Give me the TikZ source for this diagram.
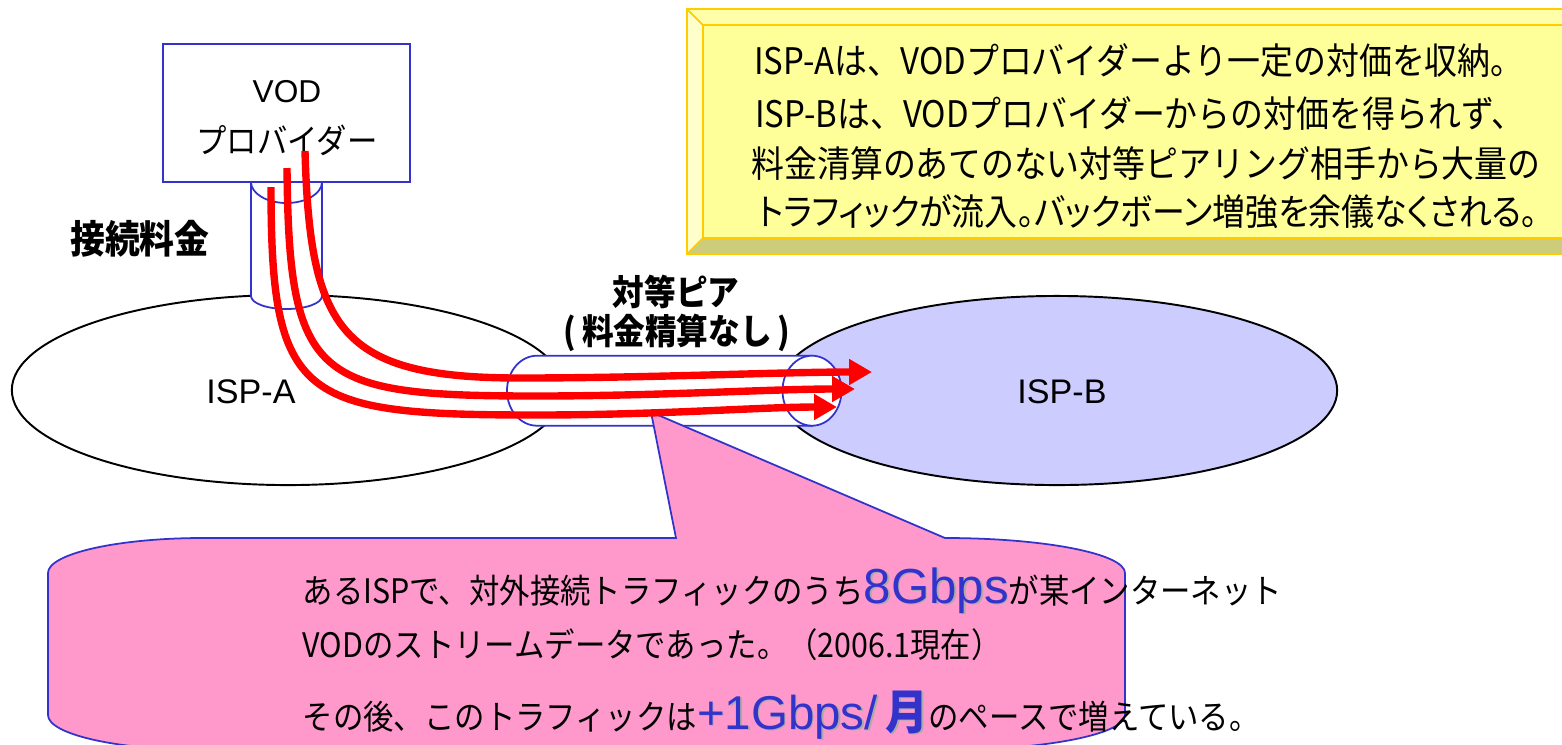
\documentclass[tikz,border=0pt]{standalone}
\usepackage{fontspec}
\setmainfont{Liberation Sans}
\newfontfamily\jp[FakeStretch=0.9]{Noto Sans CJK JP}
\newfontfamily\jpprop[FakeStretch=0.9,RawFeature=+palt]{Noto Sans CJK JP}
\usetikzlibrary{arrows.meta,shapes.geometric}
\definecolor{lineblue}{RGB}{51,51,204}
\definecolor{ispbfill}{RGB}{204,204,255}
\definecolor{pinkfill}{RGB}{255,153,204}
\definecolor{yface}{RGB}{255,255,153}
\definecolor{ytop}{RGB}{255,255,170}
\definecolor{yleft}{RGB}{255,255,204}
\definecolor{ybottom}{RGB}{204,204,122}
\definecolor{yborder}{RGB}{255,204,0}
\definecolor{shadowgray}{RGB}{170,170,170}
\definecolor{vblue}{RGB}{51,51,204}
\newcommand{\yboxfont}{\jp\fontsize{10.4}{12}\selectfont}
\newcommand{\yboxpfont}{\jpprop\fontsize{10.4}{12}\selectfont}
\newcommand{\pinkfont}{\jp\fontsize{9.6}{11}\selectfont}
\newcommand{\shadowed}[1]{\makebox[0pt][l]{\kern0.5pt\raisebox{-0.5pt}{\textcolor{shadowgray}{#1}}}\textcolor{vblue}{#1}}
\tikzset{
  ispshape/.style={ellipse, draw=black, line width=0.55pt, inner sep=0pt},
  blueline/.style={draw=lineblue, line width=0.5pt},
  flow/.style={draw=red, line width=2.1pt, -{Triangle[length=6.5pt,width=7pt]}},
  txt/.style={inner sep=0pt},
  ybord/.style={draw=yborder, line width=0.5pt},
}
\begin{document}
\begin{tikzpicture}[x=0.01cm,y=-0.01cm]
\path[use as bounding box, fill=white] (0,0) rectangle (1562,744);
\clip (0,0) rectangle (1562,744);

% ISP ellipses
\node[ispshape, fill=white, minimum width=5.52cm, minimum height=1.90cm] (ispa) at (288,390) {};
\node[ispshape, fill=ispbfill, minimum width=5.60cm, minimum height=1.89cm] (ispb) at (1057,390.5) {};
\node[txt] (ispalabel) at (251,392) {\fontsize{9.7}{11}\selectfont ISP-A};
\node[txt] (ispblabel) at (1062,392) {\fontsize{9.7}{11}\selectfont ISP-B};

% peering pipe
\path[blueline, fill=white] (812,355.7) -- (537,355.7)
  .. controls (520.4,355.7) and (507,371.4) .. (507,390.7)
  .. controls (507,410) and (520.4,425.7) .. (537,425.7) -- (812,425.7) -- cycle;
\draw[blueline, fill=white] (812,390.7) ellipse [x radius=29.5, y radius=35];

% vertical cylinder
\path[blueline, fill=white] (251,175) -- (251,296)
  .. controls (251,303.2) and (266.9,309) .. (286.5,309)
  .. controls (306.1,309) and (322,303.2) .. (322,296) -- (322,175) -- cycle;
\draw[blueline] (251,182) .. controls (251,193.6) and (266.9,203) .. (286.5,203)
  .. controls (306.1,203) and (322,193.6) .. (322,182);

% VOD provider box
\node[draw=lineblue, line width=0.5pt, fill=white, minimum width=2.47cm, minimum height=1.38cm, inner sep=0pt] (vod) at (286.5,113) {};
\node[txt] (vodt1) at (287,92) {\fontsize{9}{11}\selectfont VOD};
\node[txt] (vodt2) at (287,140) {\jp\fontsize{9.6}{11}\selectfont プロバイダー};

% labels
\node[txt] (fee) at (140,239) {\jp\fontsize{11}{13}\selectfont\bfseries 接続料金};
\node[txt] (peer1) at (676,292) {\jp\fontsize{10}{12}\selectfont\bfseries 対等ピア};
\node[txt] (peer2) at (677,333) {\jp\fontsize{10}{12}\selectfont\bfseries (\,料金精算なし\,)};

% yellow note
\fill[yface] (703,25) rectangle (1564,238);
\fill[ytop] (687,9) -- (1580,9) -- (1564,25) -- (703,25) -- cycle;
\fill[yleft] (687,9) -- (703,25) -- (703,238) -- (687,254) -- cycle;
\fill[ybottom] (687,254) -- (703,238) -- (1564,238) -- (1580,254) -- cycle;
\draw[ybord] (687,9) rectangle (1580,254);
\draw[ybord] (703,25) rectangle (1564,238);
\draw[ybord] (687,9) -- (703,25) (687,254) -- (703,238);
\node[txt] (y1) at (1139,61) {\yboxfont ISP-Aは、VODプロバイダーより一定の対価を収納。};
\node[txt] (y2) at (1140,113) {\yboxfont ISP-Bは、VODプロバイダーからの対価を得られず、};
\node[txt] (y3) at (1146,164) {\yboxfont 料金清算のあてのない対等ピアリング相手から大量の};
\node[txt] (y4) at (1148,212) {\yboxpfont トラフィックが流入。バックボーン増強を余儀なくされる。};

% pink callout
\path[blueline, fill=pinkfill] (48,573) -- (48,715)
  .. controls (48,734.3) and (117.4,750) .. (203,750) -- (945,750)
  .. controls (1044.4,750) and (1125,734.3) .. (1125,715) -- (1125,573)
  .. controls (1125,553.7) and (1044.4,538) .. (945,538)
  -- (651,412) -- (676,538) -- (203,538)
  .. controls (117.4,538) and (48,553.7) .. (48,573) -- cycle;
\node[txt, anchor=base west] (pl1) at (302,603) {\pinkfont あるISPで、対外接続トラフィックのうち\shadowed{\rmfamily\fontsize{14}{16}\selectfont 8Gbps}が某インターネット};
\node[txt, anchor=base west] (pl2) at (302,657) {\pinkfont VODのストリームデータであった。（2006.1現在）};
\node[txt, anchor=base west] (pl3) at (302,729) {\pinkfont その後、このトラフィックは\shadowed{\rmfamily\fontsize{13.5}{16}\selectfont +1Gbps/\,\jp\bfseries 月}のペースで増えている。};

% traffic flows
\coordinate (f1s) at (305,151);
\coordinate (f1e) at (872,372);
\coordinate (f2s) at (287,168);
\coordinate (f2e) at (855,389);
\coordinate (f3s) at (271,187);
\coordinate (f3e) at (837,407);
\draw[flow] (f1s) .. controls (310,330) and (340,378) .. (520,378)
  .. controls (650,378) and (780,372) .. (f1e);
\draw[flow] (f2s) .. controls (289,380) and (315,396) .. (536,396)
  .. controls (660,396) and (770,389) .. (f2e);
\draw[flow] (f3s) .. controls (271,400) and (300,415) .. (536,415)
  .. controls (660,415) and (760,407) .. (f3e);
\end{tikzpicture}
\end{document}
